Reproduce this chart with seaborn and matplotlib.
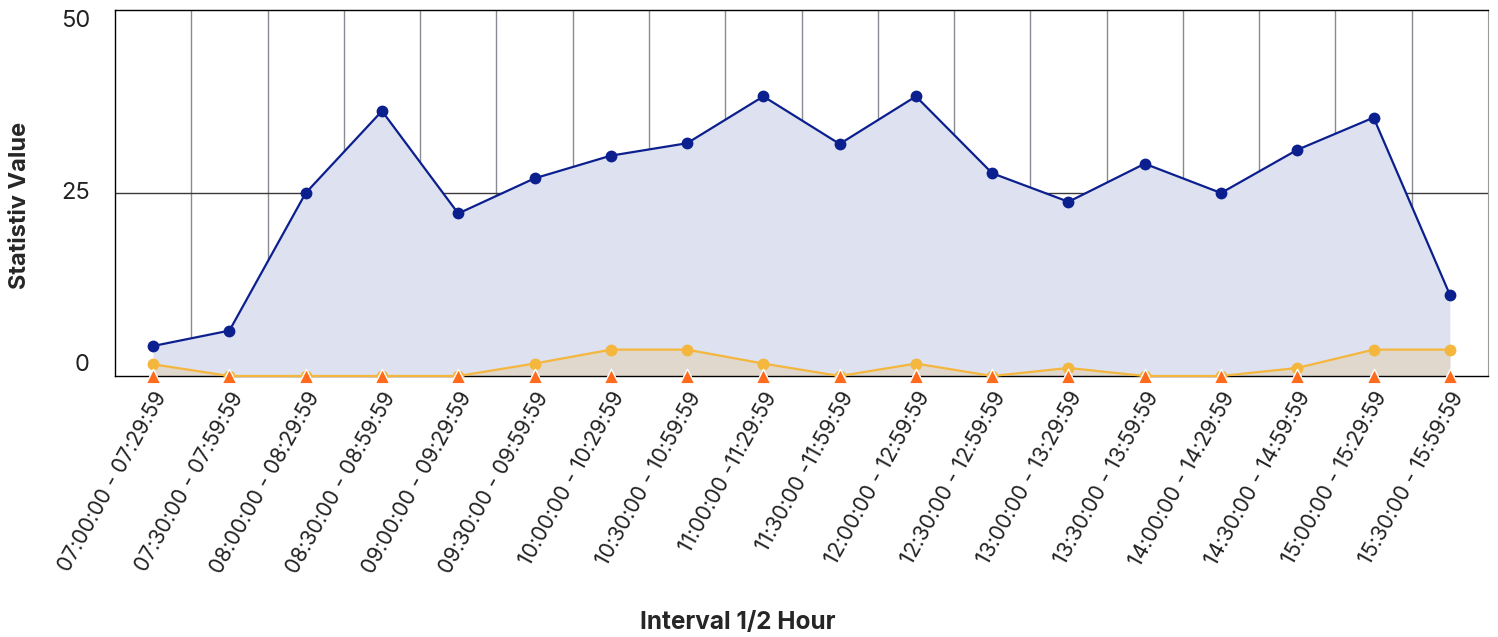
import matplotlib
matplotlib.use("Agg")
import matplotlib.pyplot as plt
import numpy as np
import pandas as pd
import seaborn as sns

# ----------------------
# Data
# ----------------------
intervals = [
    "07:00:00 - 07:29:59", "07:30:00 - 07:59:59", "08:00:00 - 08:29:59",
    "08:30:00 - 08:59:59", "09:00:00 - 09:29:59", "09:30:00 - 09:59:59",
    "10:00:00 - 10:29:59", "10:30:00 - 10:59:59", "11:00:00 -11:29:59",
    "11:30:00 -11:59:59", "12:00:00 - 12:59:59", "12:30:00 - 12:59:59",
    "13:00:00 - 13:29:59", "13:30:00 - 13:59:59", "14:00:00 - 14:29:59",
    "14:30:00 - 14:59:59", "15:00:00 - 15:29:59", "15:30:00 - 15:59:59",
]
series_blue = [4.1, 6.2, 25, 36.2, 22.2, 27, 30.1, 31.8, 38.2,
               31.7, 38.2, 27.7, 23.8, 29, 25, 30.9, 35.3, 11.1]
series_yellow = [1.6, 0, 0, 0, 0, 1.7, 3.6, 3.6, 1.7,
                 0, 1.7, 0, 1.1, 0, 0, 1.1, 3.6, 3.6]
series_orange = [0] * 18
y_ticks = [0, 25, 50]

df = pd.DataFrame({
    "pos": np.arange(len(intervals)),
    "interval": intervals,
    "blue": series_blue,
    "yellow": series_yellow,
    "orange": series_orange,
})

# ----------------------
# Plot
# ----------------------
sns.set_style("white")
plt.rcParams["font.family"] = ["Inter", "DejaVu Sans"]

fig = plt.figure(figsize=(14.98, 6.37), dpi=100)
ax = fig.add_axes([115 / 1498, 1 - 376 / 637, (1488 - 115) / 1498, (376 - 10) / 637])

blue, yellow, orange = "#0c1f8e", "#f4b63c", "#ff6a1c"

# filled areas
ax.fill_between(df["pos"], 0, df["blue"], color="#dde1f0", zorder=1, linewidth=0)
ax.fill_between(df["pos"], 0, df["yellow"], color="#e0d8cc", zorder=2, linewidth=0)

sns.lineplot(data=df, x="pos", y="blue", ax=ax, color=blue, linewidth=1.6,
             marker="o", markersize=8.5, markeredgewidth=0, zorder=5, clip_on=False)
sns.lineplot(data=df, x="pos", y="yellow", ax=ax, color=yellow, linewidth=1.6,
             marker="o", markersize=8.5, markeredgewidth=0, zorder=4, clip_on=False)
sns.scatterplot(data=df, x="pos", y="orange", ax=ax, color=orange, marker="^",
                s=110, edgecolor="white", linewidth=1, zorder=6, clip_on=False)

# grid
for xv in np.arange(0.5, len(intervals) - 1, 1):
    ax.axvline(xv, color="#8a8a92", linewidth=1, zorder=0.5)
ax.axhline(25, color="#3a3a3a", linewidth=1, zorder=0.5)

ax.set_xlim(-0.5, len(intervals) - 0.5)
ax.set_ylim(0, 50)

ax.set_xticks(df["pos"])
ax.set_xticklabels(intervals, rotation=61, ha="right", rotation_mode="anchor",
                   fontsize=15.3, color="#222222")
ax.set_yticks(y_ticks)
ax.set_yticklabels([str(t) for t in y_ticks], fontsize=17, color="#222222")
for lab, va in zip(ax.get_yticklabels(), ["bottom", "center", "top"]):
    lab.set_verticalalignment(va)
ax.tick_params(axis="both", length=0)
ax.tick_params(axis="x", pad=9)
ax.tick_params(axis="y", pad=18)

for side in ["left", "bottom", "top"]:
    ax.spines[side].set_color("black")
    ax.spines[side].set_linewidth(1)
ax.spines["right"].set_color("#9a9a9a")

ax.set_xlabel("")
ax.set_ylabel("Statistiv Value", fontsize=17, fontweight="bold")
ax.yaxis.set_label_coords(-0.061, 0.467)
fig.text(738 / 1498, 1 - 622 / 637, "Interval 1/2 Hour", ha="center", va="center",
         fontsize=17.5, fontweight="bold")

fig.savefig("out.png", dpi=100)
plt.close()
